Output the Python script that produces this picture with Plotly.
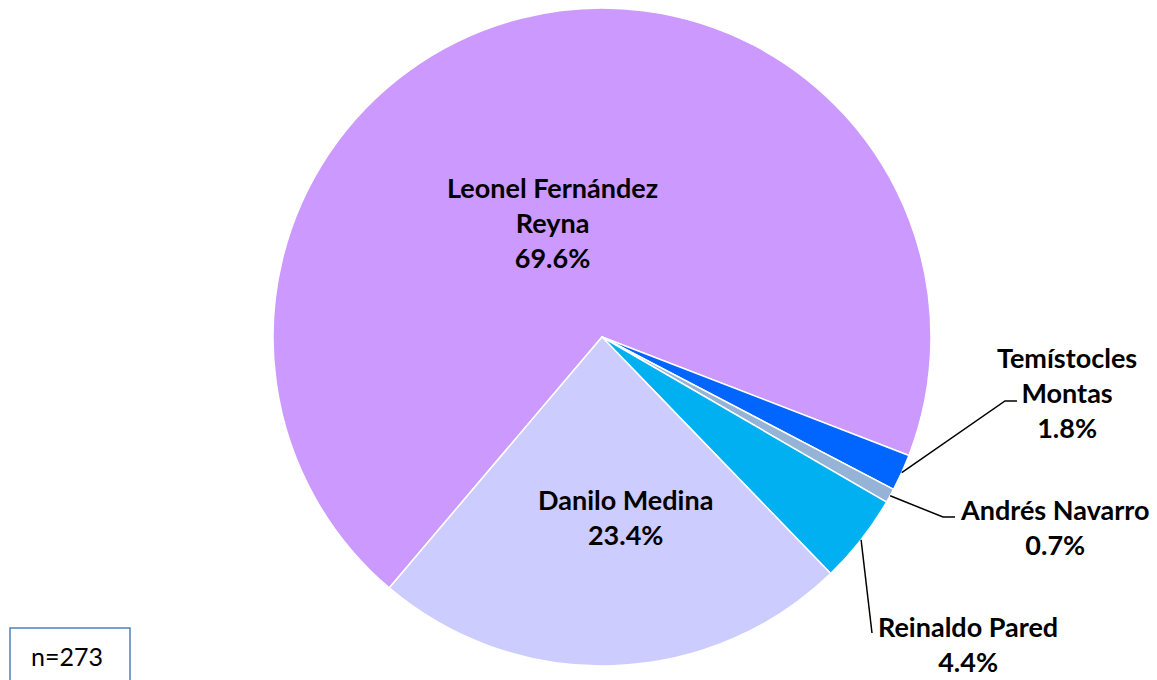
import math
import plotly.graph_objects as go

# ---- data ----
labels = ["Leonel Fernández Reyna", "Temístocles Montas", "Andrés Navarro",
          "Reinaldo Pared", "Danilo Medina"]
values = [69.6, 1.8, 0.7, 4.4, 23.4]
colors = ["#CC99FF", "#0066FF", "#95B3D7", "#00B0F0", "#CCCCFF"]
label_lines = [["Leonel Fernández", "Reyna"], ["Temístocles", "Montas"],
               ["Andrés Navarro"], ["Reinaldo Pared"], ["Danilo Medina"]]
n_text = "n=273"

OFF = 8  # page body margin
W, H = 1157 - OFF, 680 - OFF
CX, CY, R = 602, 337, 329
ROT = 220.3
FONT = "Lato"

def px(x):
    return (x - OFF) / W

def py(y):
    return 1 - (y - OFF) / H

def clip(v):
    return min(1.0, max(0.0, v))

fig = go.Figure()
fig.add_trace(go.Pie(
    labels=labels, values=values, sort=False, direction="clockwise",
    rotation=ROT, marker=dict(colors=colors, line=dict(color="white", width=1.5)),
    textinfo="none", hoverinfo="label+percent", showlegend=False,
    domain=dict(x=[clip(px(CX - R)), clip(px(CX + R))],
                y=[clip(py(CY + R)), clip(py(CY - R))]),
))

total = sum(values)
mids = []
acc = ROT
for v in values:
    span = v / total * 360
    mids.append(acc + span / 2)
    acc += span

def edge(angle_deg, rr=R):
    a = math.radians(angle_deg)
    return CX + rr * math.sin(a), CY - rr * math.cos(a)

def txt(i):
    return "<br>".join(label_lines[i] + [f"{values[i]:.1f}%"])

annotations = []
shapes = []
fs = 27
inside = {0: (552, 223), 4: (625, 517)}
for i, (x, y) in inside.items():
    annotations.append(dict(x=px(x), y=py(y), xref="paper", yref="paper",
                            text="<b>" + txt(i) + "</b>", showarrow=False,
                            font=dict(family=FONT, size=fs, color="black"),
                            align="center", xanchor="center", yanchor="middle"))
outside = {
    1: ((1067, 392), [(1005, 401), (1017, 401)]),
    2: ((1055, 527), [(943, 517), (955, 517)]),
    3: ((968, 644), [(872, 633)]),
}
for i, ((x, y), pts) in outside.items():
    annotations.append(dict(x=px(x), y=py(y), xref="paper", yref="paper",
                            text="<b>" + txt(i) + "</b>", showarrow=False,
                            font=dict(family=FONT, size=fs, color="black"),
                            align="center", xanchor="center", yanchor="middle"))
    sx, sy = edge(mids[i])
    path = f"M {px(sx)} {py(sy)}" + "".join(f" L {px(a)} {py(b)}" for a, b in pts)
    shapes.append(dict(type="path", path=path, xref="paper", yref="paper",
                       line=dict(color="black", width=1.5)))

shapes.append(dict(type="rect", xref="paper", yref="paper",
                   x0=px(10), x1=px(130), y0=py(700), y1=py(628),
                   line=dict(color="#4F81BD", width=1.5), fillcolor="white"))
annotations.append(dict(x=px(67), y=py(656), xref="paper", yref="paper",
                        text=n_text, showarrow=False,
                        font=dict(family=FONT, size=25, color="black"),
                        xanchor="center", yanchor="middle"))

fig.update_layout(
    width=W, height=H, margin=dict(l=0, r=0, t=0, b=0),
    paper_bgcolor="white", plot_bgcolor="white",
    annotations=annotations, shapes=shapes,
)
fig.write_html("out.html")
